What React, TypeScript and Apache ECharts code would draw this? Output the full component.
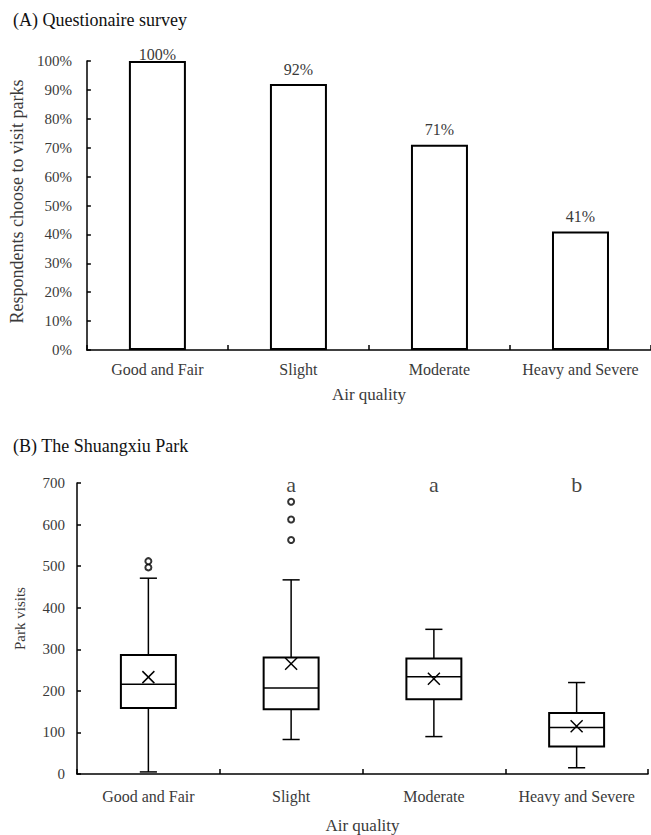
import React, { useEffect, useRef } from "react";
import * as echarts from "echarts";

const categories = ["Good and Fair", "Slight", "Moderate", "Heavy and Severe"];
const surveyPercent = [100, 92, 71, 41];

const whiskerLow = [5, 83, 90, 15];
const q1 = [159, 156, 180, 66];
const median = [216, 207, 234, 112];
const q3 = [286, 280, 278, 147];
const whiskerHigh = [471, 467, 348, 220];
const means = [233, 265, 229, 115];
const outliers: [number, number][] = [
  [0, 497],
  [0, 512],
  [1, 563],
  [1, 612],
  [1, 655],
];
const groupLetters = ["", "a", "a", "b"];

const FONT = "Liberation Serif";
const TXT = "#3a3a3a";

export default function App() {
  const ref = useRef<HTMLDivElement>(null);
  useEffect(() => {
    if (!ref.current) return;
    const chart = echarts.init(ref.current, null, { renderer: "svg" });
    const axisLine = { show: true, lineStyle: { color: "#000", width: 1.5 } };
    const boxData = categories.map((_, i) => [
      i,
      whiskerLow[i],
      q1[i],
      median[i],
      q3[i],
      whiskerHigh[i],
      means[i],
    ]);
    const letterData = groupLetters
      .map((l, i) => (l ? [i, 697] : null))
      .filter((d) => d !== null);
    const letterText = groupLetters.filter((l) => l);

    const option: any = {
      animation: false,
      backgroundColor: "#fff",
      textStyle: { fontFamily: FONT },
      title: [
        {
          text: "(A) Questionaire survey",
          left: 8,
          top: 6,
          textStyle: { fontFamily: FONT, fontSize: 18, fontWeight: "normal", color: "#111" },
        },
        {
          text: "(B) The Shuangxiu Park",
          left: 8,
          top: 432,
          textStyle: { fontFamily: FONT, fontSize: 18, fontWeight: "normal", color: "#111" },
        },
      ],
      grid: [
        { left: 80, top: 61, width: 571, height: 289 },
        { left: 77, top: 483, width: 571, height: 293 },
      ],
      xAxis: [
        {
          type: "category",
          gridIndex: 0,
          data: categories,
          axisLine,
          axisTick: { show: true, inside: true, length: 5, interval: 0, lineStyle: { color: "#000", width: 1.5 } },
          axisLabel: { interval: 0, fontFamily: FONT, fontSize: 16, color: TXT, margin: 11 },
          name: "Air quality",
          nameLocation: "middle",
          nameGap: 36,
          nameTextStyle: { fontFamily: FONT, fontSize: 17, color: TXT },
        },
        {
          type: "category",
          gridIndex: 1,
          data: categories,
          axisLine,
          axisTick: { show: true, inside: true, length: 5, interval: 0, lineStyle: { color: "#000", width: 1.5 } },
          axisLabel: { interval: 0, fontFamily: FONT, fontSize: 16, color: TXT, margin: 14 },
          name: "Air quality",
          nameLocation: "middle",
          nameGap: 43,
          nameTextStyle: { fontFamily: FONT, fontSize: 17, color: TXT },
        },
      ],
      yAxis: [
        {
          type: "value",
          gridIndex: 0,
          min: 0,
          max: 100,
          interval: 10,
          axisLine,
          axisTick: { show: true, inside: true, length: 4, lineStyle: { color: "#000", width: 1.5 } },
          splitLine: { show: false },
          axisLabel: { fontFamily: FONT, fontSize: 15, color: TXT, margin: 15, formatter: "{value}%" },
          name: "Respondents choose to visit parks",
          nameLocation: "middle",
          nameGap: 60,
          nameTextStyle: { fontFamily: FONT, fontSize: 18, color: TXT, padding: [0, 0, 0, 8] },
        },
        {
          type: "value",
          gridIndex: 1,
          min: 0,
          max: 700,
          interval: 100,
          axisLine,
          axisTick: { show: true, inside: true, length: 4, lineStyle: { color: "#000", width: 1.5 } },
          splitLine: { show: false },
          axisLabel: { fontFamily: FONT, fontSize: 15, color: TXT, margin: 12 },
          name: "Park visits",
          nameLocation: "middle",
          nameGap: 50,
          nameTextStyle: { fontFamily: FONT, fontSize: 15, color: TXT, padding: [0, 0, 0, 20] },
        },
      ],
      series: [
        {
          type: "bar",
          xAxisIndex: 0,
          yAxisIndex: 0,
          barWidth: 57,
          data: surveyPercent.map((v) => ({
            value: v,
            label: { distance: v >= 100 ? -1 : 7 },
          })),
          itemStyle: { color: "#fff", borderColor: "#000", borderWidth: 2 },
          label: {
            show: true,
            position: "top",
            formatter: "{c}%",
            fontFamily: FONT,
            fontSize: 16,
            color: TXT,
          },
        },
        {
          type: "custom",
          xAxisIndex: 1,
          yAxisIndex: 1,
          data: boxData,
          encode: { x: 0, y: [1, 2, 3, 4, 5] },
          renderItem: (params: any, api: any) => {
            const i = api.value(0);
            const band = api.size([1, 0])[0];
            const bw = band * 0.385;
            const cw = band * 0.12;
            const pLow = api.coord([i, api.value(1)]);
            const pQ1 = api.coord([i, api.value(2)]);
            const pMed = api.coord([i, api.value(3)]);
            const pQ3 = api.coord([i, api.value(4)]);
            const pHigh = api.coord([i, api.value(5)]);
            const pMean = api.coord([i, api.value(6)]);
            const x = pMed[0];
            const ls = { stroke: "#000", lineWidth: 1.5 };
            const m = 6;
            return {
              type: "group",
              children: [
                { type: "line", shape: { x1: x, y1: pHigh[1], x2: x, y2: pQ3[1] }, style: ls },
                { type: "line", shape: { x1: x, y1: pQ1[1], x2: x, y2: pLow[1] }, style: ls },
                { type: "line", shape: { x1: x - cw / 2, y1: pHigh[1], x2: x + cw / 2, y2: pHigh[1] }, style: ls },
                { type: "line", shape: { x1: x - cw / 2, y1: pLow[1], x2: x + cw / 2, y2: pLow[1] }, style: ls },
                {
                  type: "rect",
                  shape: { x: x - bw / 2, y: pQ3[1], width: bw, height: pQ1[1] - pQ3[1] },
                  style: { fill: "#fff", stroke: "#000", lineWidth: 2 },
                },
                { type: "line", shape: { x1: x - bw / 2, y1: pMed[1], x2: x + bw / 2, y2: pMed[1] }, style: ls },
                { type: "line", shape: { x1: x - m, y1: pMean[1] - m, x2: x + m, y2: pMean[1] + m }, style: ls },
                { type: "line", shape: { x1: x - m, y1: pMean[1] + m, x2: x + m, y2: pMean[1] - m }, style: ls },
              ],
            };
          },
        },
        {
          type: "scatter",
          xAxisIndex: 1,
          yAxisIndex: 1,
          data: outliers,
          symbol: "emptyCircle",
          symbolSize: 6,
          itemStyle: { color: "#000", borderColor: "#000", borderWidth: 1.3 },
        },
        {
          type: "scatter",
          xAxisIndex: 1,
          yAxisIndex: 1,
          data: letterData,
          symbolSize: 0,
          label: {
            show: true,
            position: "inside",
            formatter: (p: any) => letterText[p.dataIndex],
            fontFamily: FONT,
            fontSize: 22,
            color: "#111",
          },
        },
      ],
    };
    chart.setOption(option);
    return () => chart.dispose();
  }, []);
  return (
    <div
      ref={ref}
      style={{ position: "absolute", left: 0, top: 0, width: 651, height: 835, background: "#fff" }}
    />
  );
}
